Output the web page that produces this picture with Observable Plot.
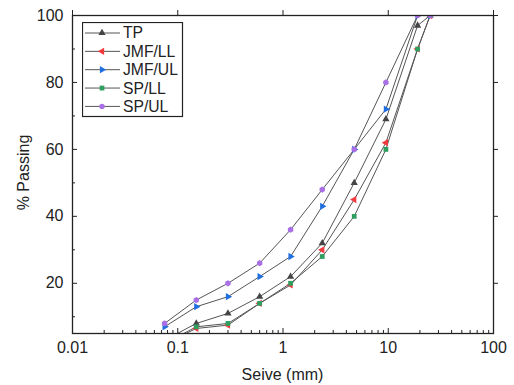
<!DOCTYPE html>
<html><head><meta charset="utf-8">
<script src="https://cdn.jsdelivr.net/npm/d3@7"></script>
<script src="https://cdn.jsdelivr.net/npm/@observablehq/plot@0.6"></script>
<style>
html,body{margin:0;padding:0;background:#fff;}
#wrap{position:relative;width:514px;height:385px;font-family:"Liberation Sans",Arial,sans-serif;}
#legend{position:absolute;left:82px;top:22px;}
</style>
</head><body>
<div id="wrap"></div>
<script>
// ---- data ----
const sieve  = [0.075, 0.15, 0.3, 0.6, 1.18, 2.36, 4.75, 9.5, 19, 25];
const names  = ["TP", "JMF/LL", "JMF/UL", "SP/LL", "SP/UL"];
const tp     = [3, 8, 11, 16, 22, 32, 50, 69, 97, 100];
const jmfLL  = [2, 6.5, 7.5, 14, 19.5, 30, 45, 62, 90, 100];
const jmfUL  = [7, 13, 16, 22, 28, 43, 60, 72, 100, 100];
const spLL   = [2, 7, 8, 14, 20, 28, 40, 60, 90, 100];
const spUL   = [8, 15, 20, 26, 36, 48, 60, 80, 100, 100];
const xTicks = [0.01, 0.1, 1, 10, 100];
const yTicks = [20, 40, 60, 80, 100];
const yMinor = [10, 30, 50, 70, 90];

const colors  = ["#454545", "#f03a3e", "#1f6fe0", "#2f9e5e", "#a970e6"];
const symbols = ["triangle", "triangle", "triangle", "square", "hexagon"];
const rotates = [0, -90, 90, 0, 0];
const seriesVals = [tp, jmfLL, jmfUL, spLL, spUL];

const rows = [];
names.forEach((n, i) => sieve.forEach((s, j) => rows.push({series: n, idx: i, x: s, y: seriesVals[i][j]})));

const xMinor = [];
[0.01, 0.1, 1, 10].forEach(d => { for (let k = 2; k <= 9; k++) xMinor.push(+(d * k).toPrecision(3)); });

const W = 514, H = 385, mL = 72, mR = 21, mT = 15, mB = 52;
const pw = W - mL - mR, ph = H - mT - mB;
const ink = "#222";

const marks = [
  // lines
  ...names.map((n, i) => Plot.line(rows.filter(r => r.idx === i), {x: "x", y: "y", stroke: "#555", strokeWidth: 1, clip: true})),
  // markers
  ...names.map((n, i) => Plot.dot(rows.filter(r => r.idx === i), {x: "x", y: "y", symbol: symbols[i], r: 2.7, fill: colors[i], stroke: "none", rotate: rotates[i], clip: true})),
  // tick labels
  Plot.axisX({ticks: xTicks, tickSize: 0, tickPadding: 8, tickFormat: d => String(d), label: null, fill: ink}),
  Plot.axisY({ticks: yTicks, tickSize: 0, tickPadding: 9, label: null, fill: ink}),
  // bottom ticks (inward)
  Plot.ruleX(xTicks, {insetTop: ph - 5, stroke: ink, strokeWidth: 1}),
  Plot.ruleX(xMinor, {insetTop: ph - 3, stroke: ink, strokeWidth: 1}),
  // top ticks (outward)
  Plot.ruleX(xTicks, {insetTop: -5, insetBottom: ph, stroke: ink, strokeWidth: 1}),
  // left ticks (inward)
  Plot.ruleY(yTicks, {insetRight: pw - 5, stroke: ink, strokeWidth: 1}),
  Plot.ruleY(yMinor, {insetRight: pw - 3, stroke: ink, strokeWidth: 1}),
  // right ticks (outward)
  Plot.ruleY(yTicks, {insetLeft: pw, insetRight: -5, stroke: ink, strokeWidth: 1}),
  Plot.frame({stroke: ink, strokeWidth: 1.3})
];

const chart = Plot.plot({
  width: W, height: H,
  marginLeft: mL, marginRight: mR, marginTop: mT, marginBottom: mB,
  style: {fontFamily: "Liberation Sans, Arial, sans-serif", fontSize: "16px", color: ink, background: "#fff", overflow: "visible"},
  x: {type: "log", domain: [0.01, 100], axis: null},
  y: {domain: [5, 100], axis: null},
  marks
});

const svg = d3.select(chart);
svg.append("text").attr("x", mL + pw / 2).attr("y", 380).attr("text-anchor", "middle")
  .attr("fill", ink).style("font-size", "16px").text("Seive (mm)");
svg.append("text").attr("transform", "translate(29,172.5) rotate(-90)").attr("text-anchor", "middle")
  .attr("fill", ink).style("font-size", "16px").text("% Passing");

const wrap = document.getElementById("wrap");
wrap.appendChild(chart);

// legend
const lg = d3.select(wrap).append("svg").attr("id", "legend").attr("width", 102).attr("height", 96);
lg.append("rect").attr("x", 0.5).attr("y", 0.5).attr("width", 100).attr("height", 94)
  .attr("fill", "#fff").attr("stroke", ink).attr("stroke-width", 1.2);
names.forEach((n, i) => {
  const cy = 11 + i * 18.35;
  lg.append("line").attr("x1", 3).attr("x2", 38).attr("y1", cy).attr("y2", cy).attr("stroke", "#555").attr("stroke-width", 1);
  const symMap = {triangle: d3.symbolTriangle, square: d3.symbolSquare, hexagon: d3.symbolHexagon || d3.symbolCircle};
  lg.append("path").attr("d", d3.symbol(symMap[symbols[i]], Math.PI * 2.7 * 2.7)())
    .attr("transform", `translate(20,${cy}) rotate(${rotates[i]})`).attr("fill", colors[i]);
  lg.append("text").attr("x", 41).attr("y", cy).attr("dy", "0.35em").attr("fill", ink)
    .style("font-size", "15.7px").style("font-family", "Liberation Sans, Arial, sans-serif").text(n);
});
</script>
</body></html>
